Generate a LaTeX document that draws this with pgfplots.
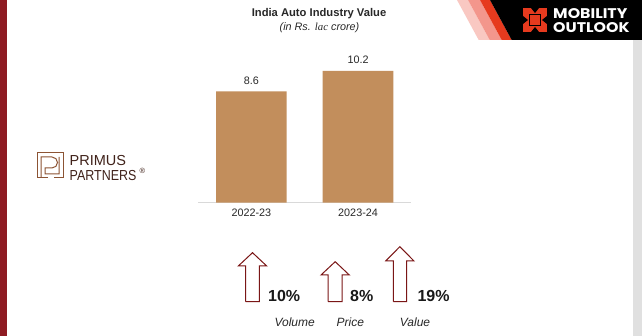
\documentclass[border=0pt]{standalone}
\usepackage{fontspec}
\setmainfont{Liberation Sans}
\newfontfamily\serifit{Liberation Serif}
\newfontfamily\poppins{Poppins}
\usepackage{pgfplots}
\pgfplotsset{compat=1.18}
\definecolor{barc}{RGB}{194,142,92}
\definecolor{leftred}{RGB}{142,27,34}
\definecolor{arrowred}{RGB}{122,22,22}
\definecolor{txt}{RGB}{40,40,40}
\definecolor{prim}{RGB}{140,84,52}
\definecolor{primtxt}{RGB}{64,34,26}
\definecolor{mored}{RGB}{230,58,30}
\definecolor{pink1}{RGB}{249,200,194}
\definecolor{pink2}{RGB}{243,150,140}
\begin{document}
\begin{tikzpicture}[x=1pt,y=1pt]
\useasboundingbox (0,0) rectangle (642,336);
\fill[white] (0,0) rectangle (642,336);
\fill[leftred] (0,0) rectangle (7,336);
\fill[black!12] (633,0) rectangle (642,296);
% header
\fill[pink1] (457,336) -- (468,336) -- (489.7,296) -- (478.7,296) -- cycle;
\fill[pink2] (468,336) -- (480,336) -- (501.7,296) -- (489.7,296) -- cycle;
\fill[mored] (480,336) -- (490,336) -- (511.7,296) -- (501.7,296) -- cycle;
\fill[black] (490,336) -- (642,336) -- (642,296) -- (511.7,296) -- cycle;
% mobility icon
\fill[mored] (523,304) rectangle (547,328);
\fill[black] (531,328) -- (539,328) -- (535,323) -- cycle;
\fill[black] (531,304) -- (539,304) -- (535,309) -- cycle;
\fill[black] (523,312) -- (523,320) -- (528,316) -- cycle;
\fill[black] (547,312) -- (547,320) -- (542,316) -- cycle;
\draw[black, line width=1.2pt, fill=mored] (529.5,310.5) rectangle (540.5,321.5);
\node[anchor=base west, text=white, inner sep=0, xscale=1.13] at (553,317) {\poppins\bfseries\fontsize{14}{16}\selectfont MOBILITY};
\node[anchor=base west, text=white, inner sep=0, xscale=1.13] at (553,303) {\poppins\bfseries\fontsize{14}{16}\selectfont OUTLOOK};
% primus logo
\draw[prim, line width=1pt] (48,158) -- (37,158) -- (37,183) -- (63,183) -- (63,158) -- (54,158);
\draw[prim, line width=1pt] (41,158) -- (41,179) -- (52,179) arc[start angle=90, end angle=-90, radius=5.5] -- (45,168) -- (45,162) -- (59,162) -- (59,179);
\node[anchor=base west, text=primtxt, inner sep=0] at (69.5,170) {\fontsize{14.5}{16}\selectfont PRIMUS};
\node[anchor=base west, text=primtxt, inner sep=0, xscale=0.86] at (69.5,155.3) {\fontsize{14.5}{16}\selectfont PARTNERS};
\node[anchor=base west, text=primtxt, inner sep=0] at (139.5,162.5) {\fontsize{7.5}{8}\selectfont ®};
% titles
\node[text=txt] at (319,322.2) {\bfseries\fontsize{11.2}{13}\selectfont India Auto Industry Value};
\node[text=txt] at (319.5,308.5) {\itshape\fontsize{10.8}{13}\selectfont (in Rs. {\serifit\itshape lac} crore)};
\begin{axis}[
  at={(198pt,133.3pt)}, anchor=south west,
  x=106.7pt, y=12.93pt,
  xmin=-0.5, xmax=1.5, ymin=0, ymax=10.5,
  axis x line=bottom, axis y line=none,
  x axis line style={-, draw=black!15, line width=0.8pt},
  xtick=data, xticklabels={2022-23,2023-24},
  major tick length=0pt,
  xticklabel style={font=\fontsize{10.8}{12}\selectfont, text=txt, yshift=-2.5pt},
  ytick=\empty,
  clip=false,
  /pgf/number format/assume math mode=true,
  nodes near coords={\pgfmathprintnumber[fixed,precision=1]{\pgfplotspointmeta}},
  every node near coord/.append style={font=\fontsize{10.8}{12}\selectfont, text=txt, yshift=3.2pt},
]
\addplot[ybar, bar width=70.7pt, fill=barc, draw=none] coordinates {(0,8.6) (1,10.2)};
\end{axis}
\begin{axis}[
  at={(0pt,0pt)}, anchor=south west,
  x=1pt, y=1pt, xmin=0, xmax=642, ymin=0, ymax=336,
  hide axis, clip=false,
]
\addplot[draw=arrowred, fill=white, line width=1pt] coordinates {(245.7,34.3) (259.3,34.3) (259.3,70) (266.7,70) (252.5,83.3) (238.3,70) (245.7,70) (245.7,34.3)};
\addplot[draw=arrowred, fill=white, line width=1pt] coordinates {(328,34.3) (342,34.3) (342,61) (349.3,61) (335.2,74.3) (321,61) (328,61) (328,34.3)};
\addplot[draw=arrowred, fill=white, line width=1pt] coordinates {(393.3,34.3) (406.7,34.3) (406.7,75) (414,75) (399.8,89.3) (385.7,75) (393.3,75) (393.3,34.3)};
\end{axis}
\node[anchor=base west, inner sep=0, text=black!90] at (268,34.3) {\bfseries\fontsize{16}{18}\selectfont 10\%};
\node[anchor=base west, inner sep=0, text=black!90] at (350,34.3) {\bfseries\fontsize{16}{18}\selectfont 8\%};
\node[anchor=base west, inner sep=0, text=black!90] at (417.3,34.3) {\bfseries\fontsize{16}{18}\selectfont 19\%};
\node[anchor=base, inner sep=0, text=txt] at (294.7,9.8) {\itshape\fontsize{12}{14}\selectfont Volume};
\node[anchor=base, inner sep=0, text=txt] at (350.3,9.8) {\itshape\fontsize{12}{14}\selectfont Price};
\node[anchor=base, inner sep=0, text=txt] at (415,9.8) {\itshape\fontsize{12}{14}\selectfont Value};
\end{tikzpicture}
\end{document}
